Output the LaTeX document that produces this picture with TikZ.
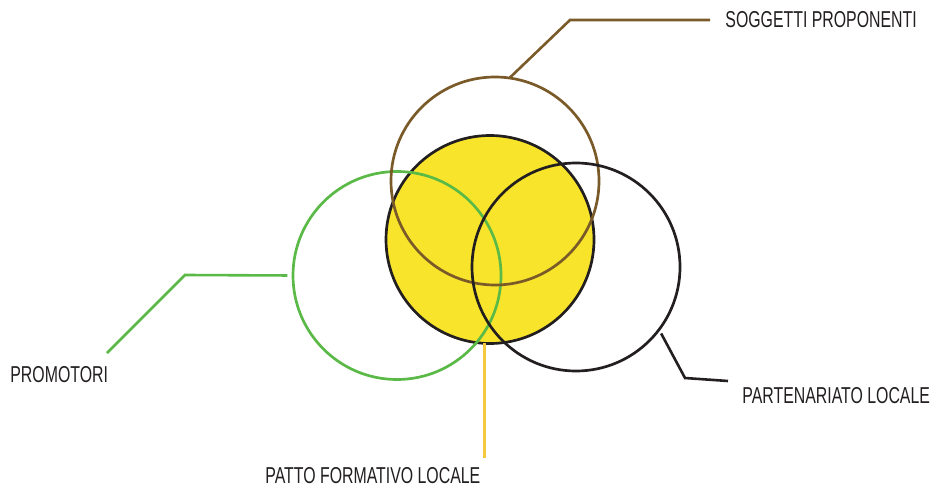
\documentclass[tikz,border=0pt]{standalone}
\usepackage{fontspec}
\newfontfamily\condfont{Liberation Sans}[FakeStretch=0.69]
\usepackage{tikz}
\usetikzlibrary{positioning, calc}

\definecolor{brownline}{HTML}{7A5A28}
\definecolor{greenline}{HTML}{5BBA47}
\definecolor{yellowfill}{HTML}{F8E52B}
\definecolor{yellowline}{HTML}{F5C842}
\definecolor{darkline}{HTML}{231F20}

\begin{document}
\begin{tikzpicture}[
    x=0.5pt, y=-0.5pt,
    ring/.style={circle, minimum size=104pt, inner sep=0pt, outer sep=0pt, line width=1.35pt},
    lbl/.style={anchor=west, inner sep=0pt, font=\condfont\fontsize{11.5}{13}\selectfont, text=darkline},
    conn/.style={line width=1.3pt}
]
\useasboundingbox (0,0) rectangle (935,486);

% Circles
\node[ring, draw=darkline, fill=yellowfill] (yellow) at (490,239.5) {};
\node[ring, draw=greenline] (green) at (397,275.5) {};
\node[ring, draw=brownline] (brown) at (495,181) {};
\node[ring, draw=darkline] (black) at (576,267) {};

% Labels
\node[lbl] (soggetti) at (725,20) {SOGGETTI PROPONENTI};
\node[lbl] (promotori) at (10,375) {PROMOTORI};
\node[lbl] (partenariato) at (742,396) {PARTENARIATO LOCALE};
\node[lbl] (patto) at (265,476) {PATTO FORMATIVO LOCALE};

% Connectors
\draw[conn, draw=brownline, shorten >=7.5pt] (brown.82) -- (570,20) -- (soggetti.west);
\draw[conn, draw=greenline, shorten <=2.8pt] (green.west) -- (185,275) -- ([shift={(97,-22)}]promotori.west);
\draw[conn, draw=darkline, shorten <=2.2pt] (black.-37.5) -- (685,378) -- ([shift={(-14,-15)}]partenariato.west);
\coordinate (pattoend) at ([shift={(220,-18)}]patto.west);
\draw[conn, draw=yellowline] (yellow.267) -- (yellow.267 |- pattoend);

\end{tikzpicture}
\end{document}
